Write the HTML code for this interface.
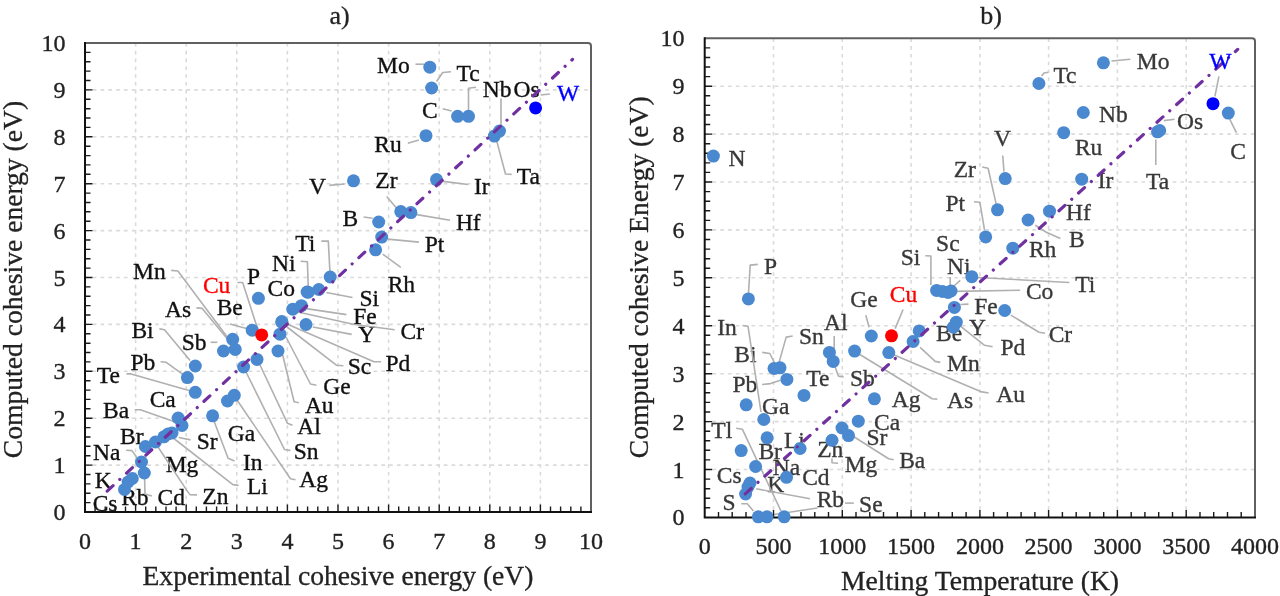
<!DOCTYPE html>
<html><head><meta charset="utf-8"><title>Cohesive energy charts</title><style>
html,body{margin:0;padding:0;background:#fff;width:1280px;height:596px;overflow:hidden;}
svg{display:block;filter:blur(0.5px);}
text{font-family:"Liberation Serif",serif;}
.tk{font-size:24px;fill:#222;stroke:#222;stroke-width:0.35px;}
.tt{font-size:27.6px;fill:#222;stroke:#222;stroke-width:0.3px;}
.lb{font-size:23.5px;fill:#111;stroke:#111;stroke-width:0.35px;}
.rb{font-size:23.5px;fill:#383838;stroke:#383838;stroke-width:0.35px;}
.gd{stroke:#dadada;stroke-width:1.6;stroke-dasharray:3.6 4.2;fill:none;}
.ld{stroke:#b0b0b0;stroke-width:1.6;fill:none;stroke-linejoin:round;}
.mt{stroke:#1a1a1a;stroke-width:1.4;}
.fit{stroke:#7030a0;stroke-width:3.2;fill:none;stroke-linecap:round;stroke-dasharray:8 9.2 0.01 9.2;}
</style></head><body>
<svg width="1280" height="596" viewBox="0 0 1280 596">
<line class="gd" x1="135.6" y1="43" x2="135.6" y2="512"/>
<line class="gd" x1="186.2" y1="43" x2="186.2" y2="512"/>
<line class="gd" x1="236.8" y1="43" x2="236.8" y2="512"/>
<line class="gd" x1="287.4" y1="43" x2="287.4" y2="512"/>
<line class="gd" x1="338" y1="43" x2="338" y2="512"/>
<line class="gd" x1="388.6" y1="43" x2="388.6" y2="512"/>
<line class="gd" x1="439.2" y1="43" x2="439.2" y2="512"/>
<line class="gd" x1="489.8" y1="43" x2="489.8" y2="512"/>
<line class="gd" x1="540.4" y1="43" x2="540.4" y2="512"/>
<line class="gd" x1="85" y1="465.1" x2="591" y2="465.1"/>
<line class="gd" x1="85" y1="418.2" x2="591" y2="418.2"/>
<line class="gd" x1="85" y1="371.3" x2="591" y2="371.3"/>
<line class="gd" x1="85" y1="324.4" x2="591" y2="324.4"/>
<line class="gd" x1="85" y1="277.5" x2="591" y2="277.5"/>
<line class="gd" x1="85" y1="230.6" x2="591" y2="230.6"/>
<line class="gd" x1="85" y1="183.7" x2="591" y2="183.7"/>
<line class="gd" x1="85" y1="136.8" x2="591" y2="136.8"/>
<line class="gd" x1="85" y1="89.9" x2="591" y2="89.9"/>
<line class="gd" x1="773.5" y1="38.3" x2="773.5" y2="517.4"/>
<line class="gd" x1="842.3" y1="38.3" x2="842.3" y2="517.4"/>
<line class="gd" x1="911.1" y1="38.3" x2="911.1" y2="517.4"/>
<line class="gd" x1="979.9" y1="38.3" x2="979.9" y2="517.4"/>
<line class="gd" x1="1048.6" y1="38.3" x2="1048.6" y2="517.4"/>
<line class="gd" x1="1117.4" y1="38.3" x2="1117.4" y2="517.4"/>
<line class="gd" x1="1186.2" y1="38.3" x2="1186.2" y2="517.4"/>
<line class="gd" x1="704.7" y1="469.5" x2="1255" y2="469.5"/>
<line class="gd" x1="704.7" y1="421.6" x2="1255" y2="421.6"/>
<line class="gd" x1="704.7" y1="373.7" x2="1255" y2="373.7"/>
<line class="gd" x1="704.7" y1="325.8" x2="1255" y2="325.8"/>
<line class="gd" x1="704.7" y1="277.8" x2="1255" y2="277.8"/>
<line class="gd" x1="704.7" y1="229.9" x2="1255" y2="229.9"/>
<line class="gd" x1="704.7" y1="182" x2="1255" y2="182"/>
<line class="gd" x1="704.7" y1="134.1" x2="1255" y2="134.1"/>
<line class="gd" x1="704.7" y1="86.2" x2="1255" y2="86.2"/>
<text class="lb" x="377.1" y="72.8">Mo</text>
<text class="lb" x="456.5" y="81.3">Tc</text>
<text class="lb" x="482.7" y="96.7">Nb</text>
<text class="lb" x="513.5" y="96.7">Os</text>
<text class="lb" x="422" y="118.1">C</text>
<text class="lb" x="374.3" y="152.3">Ru</text>
<text class="lb" x="308.9" y="193.8">V</text>
<text class="lb" x="375.3" y="187.7">Zr</text>
<text class="lb" x="474" y="193.8">Ir</text>
<text class="lb" x="455.9" y="230.1">Hf</text>
<text class="lb" x="516.7" y="184.3">Ta</text>
<text class="lb" x="342.5" y="226">B</text>
<text class="lb" x="424.7" y="251.5">Pt</text>
<text class="lb" x="387.7" y="292.3">Rh</text>
<text class="lb" x="295.3" y="250.6">Ti</text>
<text class="lb" x="272.1" y="271.4">Ni</text>
<text class="lb" x="267.5" y="295.6">Co</text>
<text class="lb" x="359.4" y="306.3">Si</text>
<text class="lb" x="353.3" y="324">Fe</text>
<text class="lb" x="400.5" y="339.3">Cr</text>
<text class="lb" x="358.2" y="342.3">Y</text>
<text class="lb" x="246.9" y="284.3">P</text>
<text class="lb" x="216.7" y="315.3">Be</text>
<text class="lb" x="133.1" y="278.8">Mn</text>
<text class="lb" x="165" y="316.6">As</text>
<text class="lb" x="131.4" y="337.5">Bi</text>
<text class="lb" x="181.8" y="349.5">Sb</text>
<text class="lb" x="347.8" y="373.8">Sc</text>
<text class="lb" x="385.4" y="371.4">Pd</text>
<text class="lb" x="323.3" y="394.3">Ge</text>
<text class="lb" x="304.9" y="412.8">Au</text>
<text class="lb" x="297.3" y="433.7">Al</text>
<text class="lb" x="293.7" y="459.3">Sn</text>
<text class="lb" x="299.3" y="487.1">Ag</text>
<text class="lb" x="130.4" y="370">Pb</text>
<text class="lb" x="96.7" y="382.9">Te</text>
<text class="lb" x="149.7" y="406.9">Ca</text>
<text class="lb" x="103.1" y="417.9">Ba</text>
<text class="lb" x="227.8" y="440.8">Ga</text>
<text class="lb" x="242.9" y="470.3">In</text>
<text class="lb" x="246.9" y="494.3">Li</text>
<text class="lb" x="196.7" y="448.9">Sr</text>
<text class="lb" x="120" y="443.8">Br</text>
<text class="lb" x="93.1" y="459.8">Na</text>
<text class="lb" x="165.7" y="472.3">Mg</text>
<text class="lb" x="94.7" y="488.3">K</text>
<text class="lb" x="157.5" y="504.8">Cd</text>
<text class="lb" x="202.3" y="504.1">Zn</text>
<text class="lb" x="121.2" y="505.3">Rb</text>
<text class="lb" x="92.7" y="511.3">Cs</text>
<text class="rb" x="728.4" y="165.6">N</text>
<text class="rb" x="1136.8" y="69">Mo</text>
<text class="rb" x="1053.4" y="82.5">Tc</text>
<text class="rb" x="1099.1" y="122.2">Nb</text>
<text class="rb" x="1074.9" y="155.3">Ru</text>
<text class="rb" x="1177" y="128.9">Os</text>
<text class="rb" x="1230.2" y="158.5">C</text>
<text class="rb" x="1146.1" y="189.4">Ta</text>
<text class="rb" x="1097.7" y="188">Ir</text>
<text class="rb" x="994.1" y="146.2">V</text>
<text class="rb" x="953.7" y="176.7">Zr</text>
<text class="rb" x="945.5" y="210.8">Pt</text>
<text class="rb" x="1066.1" y="219.5">Hf</text>
<text class="rb" x="1069.1" y="246.7">B</text>
<text class="rb" x="1028.9" y="257.3">Rh</text>
<text class="rb" x="936.1" y="250.5">Sc</text>
<text class="rb" x="900.8" y="264.5">Si</text>
<text class="rb" x="947.1" y="273.6">Ni</text>
<text class="rb" x="1075.2" y="292">Ti</text>
<text class="rb" x="1025.9" y="299">Co</text>
<text class="rb" x="974.3" y="313.6">Fe</text>
<text class="rb" x="969" y="335.3">Y</text>
<text class="rb" x="936.1" y="340.8">Be</text>
<text class="rb" x="1048.7" y="341.6">Cr</text>
<text class="rb" x="1000.4" y="355.2">Pd</text>
<text class="rb" x="947" y="370.8">Mn</text>
<text class="rb" x="996.2" y="402">Au</text>
<text class="rb" x="947" y="407.6">As</text>
<text class="rb" x="764.1" y="274.1">P</text>
<text class="rb" x="850.3" y="306.8">Ge</text>
<text class="rb" x="824.1" y="329.8">Al</text>
<text class="rb" x="717.2" y="335.2">In</text>
<text class="rb" x="799" y="343.9">Sn</text>
<text class="rb" x="734.3" y="361.8">Bi</text>
<text class="rb" x="732.4" y="392.3">Pb</text>
<text class="rb" x="806.2" y="386.4">Te</text>
<text class="rb" x="849.9" y="386.4">Sb</text>
<text class="rb" x="762" y="413.8">Ga</text>
<text class="rb" x="891.7" y="407.1">Ag</text>
<text class="rb" x="874.1" y="429.8">Ca</text>
<text class="rb" x="866.5" y="444.9">Sr</text>
<text class="rb" x="899.2" y="467.5">Ba</text>
<text class="rb" x="844.7" y="471.7">Mg</text>
<text class="rb" x="711.3" y="437.8">Tl</text>
<text class="rb" x="784" y="447.5">Li</text>
<text class="rb" x="758.4" y="458.8">Br</text>
<text class="rb" x="817.2" y="457.3">Zn</text>
<text class="rb" x="772.7" y="474.6">Na</text>
<text class="rb" x="802.2" y="485.2">Cd</text>
<text class="rb" x="767.3" y="492.3">K</text>
<text class="rb" x="816.7" y="507.2">Rb</text>
<text class="rb" x="716.8" y="482.8">Cs</text>
<text class="rb" x="722.5" y="510.1">S</text>
<text class="rb" x="859.1" y="512.2">Se</text>
<polyline class="ld" points="415.5,64.2 423.8,64.2"/>
<polyline class="ld" points="436.6,81.5 442.7,72.5 451,71.7"/>
<polyline class="ld" points="442.7,108.7 451.7,111"/>
<polyline class="ld" points="468.5,110 468.5,88.2 476,87.2"/>
<polyline class="ld" points="501,126 501,98.6"/>
<polyline class="ld" points="540.6,95 549.9,94"/>
<polyline class="ld" points="407.8,143.2 418.9,140.1"/>
<polyline class="ld" points="329.3,185.4 344.4,184"/>
<polyline class="ld" points="386.7,196.5 396.8,208.6"/>
<polyline class="ld" points="443.1,181.4 468.3,184.5"/>
<polyline class="ld" points="416.9,214.6 450.1,220.3"/>
<polyline class="ld" points="496.5,140.1 505.5,174 511.6,174.4"/>
<polyline class="ld" points="363.6,217 372.6,218.2"/>
<polyline class="ld" points="387.7,239.1 418.9,242.1"/>
<polyline class="ld" points="382.7,254.2 400.8,267.3"/>
<polyline class="ld" points="321.3,241.1 328.3,241.1 329.9,271.3"/>
<polyline class="ld" points="300.6,261.3 307.4,261.8 308.2,286.3"/>
<polyline class="ld" points="326.3,292.5 352.5,297.5"/>
<polyline class="ld" points="306.2,308.6 346.4,314.6"/>
<polyline class="ld" points="298,312 353.1,324.3 394.7,329.7"/>
<polyline class="ld" points="312.8,327 351.7,334.4"/>
<polyline class="ld" points="237.4,282.5 242.7,282.5 257,327"/>
<polyline class="ld" points="229.8,324 246.5,328.5"/>
<polyline class="ld" points="171.2,270.4 177.9,271 227.4,337.2"/>
<polyline class="ld" points="196.4,307.9 202.2,308.4 230.8,343"/>
<polyline class="ld" points="159.4,328.9 164.5,329.7 190.1,360.4"/>
<polyline class="ld" points="210.6,342.3 217.3,342.3"/>
<polyline class="ld" points="160.6,361.7 166.2,362.3 182.8,374.3"/>
<polyline class="ld" points="126.5,373.9 131.1,373.9 189,390.5"/>
<polyline class="ld" points="134.8,409.7 140.3,409.7 176,422.2"/>
<polyline class="ld" points="287,327 336.4,365.2 343.4,365.7"/>
<polyline class="ld" points="287,324 374,361.7 381,361.7"/>
<polyline class="ld" points="286,337 310.5,384 316.4,385.2"/>
<polyline class="ld" points="282.3,353.5 294.1,401.7 298.8,402.8"/>
<polyline class="ld" points="260,365 287.5,423.3 292.5,425.3"/>
<polyline class="ld" points="246,372 284.5,449.5 290.5,450.5"/>
<polyline class="ld" points="237,400 290.5,478.7 295.5,479.7"/>
<polyline class="ld" points="214,421 228.1,458.3 234.5,461.1"/>
<polyline class="ld" points="172,437 232.9,484.6 238.5,485.4"/>
<polyline class="ld" points="158,447 186.7,490.1 189.9,494.6 197,494.9"/>
<polyline class="ld" points="178.7,437.5 190.6,439.9"/>
<polyline class="ld" points="126.1,450.3 132,450.6 137,457.8"/>
<polyline class="ld" points="144.6,478.8 145,494 152,496"/>
<polyline class="ld" points="1111.5,61 1130.3,59.3"/>
<polyline class="ld" points="1041.6,76 1044,73 1048.3,72.2"/>
<polyline class="ld" points="1163.8,120.6 1174.6,119.2"/>
<polyline class="ld" points="1214.9,96.4 1218.9,76.3"/>
<polyline class="ld" points="1229.7,119.2 1236.4,132.7"/>
<polyline class="ld" points="1155.8,139.4 1155.8,164.9"/>
<polyline class="ld" points="1002.7,155.5 1004,171.6"/>
<polyline class="ld" points="982.2,167 988.1,168.2 996.3,204.6"/>
<polyline class="ld" points="974,201.8 979.9,202.3 984.6,230.5"/>
<polyline class="ld" points="1035.2,225.3 1046.3,232.3 1060.4,238.4"/>
<polyline class="ld" points="978,277.5 1069.4,282.5"/>
<polyline class="ld" points="954.5,291.4 1020.1,290.3"/>
<polyline class="ld" points="925.3,255.8 930.9,256 930.9,285"/>
<polyline class="ld" points="950.2,277 950.2,285.3"/>
<polyline class="ld" points="960.3,280.3 952.7,287"/>
<polyline class="ld" points="903.1,309.5 895.1,328.6"/>
<polyline class="ld" points="960.5,304.5 968.5,304.1"/>
<polyline class="ld" points="1010.8,315.1 1039,332.2 1045,333.2"/>
<polyline class="ld" points="960.4,326.2 984.6,345.3 992.6,346.7"/>
<polyline class="ld" points="920.1,347.3 935.2,361.4 940.3,362.4"/>
<polyline class="ld" points="893,354.5 980.6,391.6 988.6,393"/>
<polyline class="ld" points="859,354 932.2,398.7 937.3,399.1"/>
<polyline class="ld" points="748.4,294.5 750.2,265.1 757.8,264.4"/>
<polyline class="ld" points="865.8,315.3 869.1,327.3"/>
<polyline class="ld" points="834.2,336 834.2,349.1"/>
<polyline class="ld" points="742.5,325.5 748,326.2 761,412"/>
<polyline class="ld" points="762.2,352.4 769.8,353.5 775.3,364.4"/>
<polyline class="ld" points="792.7,336 786.2,337.1 778.5,364.4"/>
<polyline class="ld" points="762.1,384.5 770.5,383.6 780.5,380.3"/>
<polyline class="ld" points="832.6,360.1 838.4,376.1 843.5,376.9"/>
<polyline class="ld" points="848,433 888.6,458.8 893.7,459.7"/>
<polyline class="ld" points="736.2,428.2 742.3,429.2 781,511"/>
<polyline class="ld" points="756.2,488.8 810,498.8"/>
<polyline class="ld" points="771,515 817.5,508"/>
<polyline class="ld" points="845,503.1 853.8,503.1"/>
<polyline class="ld" points="741.3,503.7 747.3,503.7 753.4,511"/>
<polyline class="ld" points="832,458.5 832,462.8 838,463.2"/>
<path d="M85 43 L588 43 Q591 43 591 46 L591 512" stroke="#606060" stroke-width="2" fill="none"/>
<path class="mt" d="M95.1 512V506.5M105.2 512V506.5M115.4 512V506.5M125.5 512V506.5M145.7 512V506.5M155.8 512V506.5M166 512V506.5M176.1 512V506.5M196.3 512V506.5M206.4 512V506.5M216.6 512V506.5M226.7 512V506.5M246.9 512V506.5M257 512V506.5M267.2 512V506.5M277.3 512V506.5M297.5 512V506.5M307.6 512V506.5M317.8 512V506.5M327.9 512V506.5M348.1 512V506.5M358.2 512V506.5M368.4 512V506.5M378.5 512V506.5M398.7 512V506.5M408.8 512V506.5M419 512V506.5M429.1 512V506.5M449.3 512V506.5M459.4 512V506.5M469.6 512V506.5M479.7 512V506.5M499.9 512V506.5M510 512V506.5M520.2 512V506.5M530.3 512V506.5M550.5 512V506.5M560.6 512V506.5M570.8 512V506.5M580.9 512V506.5M135.6 512V504.5M186.2 512V504.5M236.8 512V504.5M287.4 512V504.5M338 512V504.5M388.6 512V504.5M439.2 512V504.5M489.8 512V504.5M540.4 512V504.5M85 502.6H90.5M85 493.2H90.5M85 483.9H90.5M85 474.5H90.5M85 455.7H90.5M85 446.3H90.5M85 437H90.5M85 427.6H90.5M85 408.8H90.5M85 399.4H90.5M85 390.1H90.5M85 380.7H90.5M85 361.9H90.5M85 352.5H90.5M85 343.2H90.5M85 333.8H90.5M85 315H90.5M85 305.6H90.5M85 296.3H90.5M85 286.9H90.5M85 268.1H90.5M85 258.7H90.5M85 249.4H90.5M85 240H90.5M85 221.2H90.5M85 211.8H90.5M85 202.5H90.5M85 193.1H90.5M85 174.3H90.5M85 164.9H90.5M85 155.6H90.5M85 146.2H90.5M85 127.4H90.5M85 118H90.5M85 108.7H90.5M85 99.3H90.5M85 80.5H90.5M85 71.1H90.5M85 61.8H90.5M85 52.4H90.5M85 465.1H92.5M85 418.2H92.5M85 371.3H92.5M85 324.4H92.5M85 277.5H92.5M85 230.6H92.5M85 183.7H92.5M85 136.8H92.5M85 89.9H92.5"/>
<path d="M85 42 V512 H592" stroke="#111" stroke-width="2" fill="none"/>
<path d="M704.7 38.3 L1252 38.3 Q1255 38.3 1255 41.3 L1255 517.4" stroke="#606060" stroke-width="2" fill="none"/>
<path class="mt" d="M718.5 517.4V511.9M732.2 517.4V511.9M746 517.4V511.9M759.7 517.4V511.9M787.2 517.4V511.9M801 517.4V511.9M814.8 517.4V511.9M828.5 517.4V511.9M856 517.4V511.9M869.8 517.4V511.9M883.5 517.4V511.9M897.3 517.4V511.9M924.8 517.4V511.9M938.6 517.4V511.9M952.3 517.4V511.9M966.1 517.4V511.9M993.6 517.4V511.9M1007.4 517.4V511.9M1021.1 517.4V511.9M1034.9 517.4V511.9M1062.4 517.4V511.9M1076.2 517.4V511.9M1089.9 517.4V511.9M1103.7 517.4V511.9M1131.2 517.4V511.9M1144.9 517.4V511.9M1158.7 517.4V511.9M1172.5 517.4V511.9M1200 517.4V511.9M1213.7 517.4V511.9M1227.5 517.4V511.9M1241.2 517.4V511.9M773.5 517.4V509.9M842.3 517.4V509.9M911.1 517.4V509.9M979.9 517.4V509.9M1048.6 517.4V509.9M1117.4 517.4V509.9M1186.2 517.4V509.9M704.7 507.8H710.2M704.7 498.2H710.2M704.7 488.7H710.2M704.7 479.1H710.2M704.7 459.9H710.2M704.7 450.3H710.2M704.7 440.7H710.2M704.7 431.2H710.2M704.7 412H710.2M704.7 402.4H710.2M704.7 392.8H710.2M704.7 383.3H710.2M704.7 364.1H710.2M704.7 354.5H710.2M704.7 344.9H710.2M704.7 335.3H710.2M704.7 316.2H710.2M704.7 306.6H710.2M704.7 297H710.2M704.7 287.4H710.2M704.7 268.3H710.2M704.7 258.7H710.2M704.7 249.1H710.2M704.7 239.5H710.2M704.7 220.4H710.2M704.7 210.8H710.2M704.7 201.2H710.2M704.7 191.6H710.2M704.7 172.4H710.2M704.7 162.9H710.2M704.7 153.3H710.2M704.7 143.7H710.2M704.7 124.5H710.2M704.7 115H710.2M704.7 105.4H710.2M704.7 95.8H710.2M704.7 76.6H710.2M704.7 67H710.2M704.7 57.5H710.2M704.7 47.9H710.2M704.7 469.5H712.2M704.7 421.6H712.2M704.7 373.7H712.2M704.7 325.8H712.2M704.7 277.8H712.2M704.7 229.9H712.2M704.7 182H712.2M704.7 134.1H712.2M704.7 86.2H712.2"/>
<path d="M704.7 37.3 V517.4 H1256" stroke="#111" stroke-width="2" fill="none"/>
<circle cx="429.8" cy="67.2" r="6.5" fill="#4a89cf"/>
<circle cx="431.6" cy="88" r="6.5" fill="#4a89cf"/>
<circle cx="457.6" cy="116.3" r="6.5" fill="#4a89cf"/>
<circle cx="468.5" cy="116.3" r="6.5" fill="#4a89cf"/>
<circle cx="426" cy="135.7" r="6.5" fill="#4a89cf"/>
<circle cx="494.4" cy="136.1" r="6.5" fill="#4a89cf"/>
<circle cx="499.5" cy="131.1" r="6.5" fill="#4a89cf"/>
<circle cx="353.5" cy="180.8" r="6.5" fill="#4a89cf"/>
<circle cx="436.5" cy="179.6" r="6.5" fill="#4a89cf"/>
<circle cx="400.8" cy="211.6" r="6.5" fill="#4a89cf"/>
<circle cx="410.9" cy="212.6" r="6.5" fill="#4a89cf"/>
<circle cx="378.7" cy="222" r="6.5" fill="#4a89cf"/>
<circle cx="381.7" cy="237.1" r="6.5" fill="#4a89cf"/>
<circle cx="375.6" cy="249.8" r="6.5" fill="#4a89cf"/>
<circle cx="330.2" cy="277" r="6.5" fill="#4a89cf"/>
<circle cx="318.8" cy="289.5" r="6.5" fill="#4a89cf"/>
<circle cx="307.1" cy="292" r="6.5" fill="#4a89cf"/>
<circle cx="308.2" cy="292.2" r="6.5" fill="#4a89cf"/>
<circle cx="301.4" cy="305.7" r="6.5" fill="#4a89cf"/>
<circle cx="292.8" cy="309.2" r="6.5" fill="#4a89cf"/>
<circle cx="306" cy="324.5" r="6.5" fill="#4a89cf"/>
<circle cx="282" cy="322.5" r="6.5" fill="#4a89cf"/>
<circle cx="281.8" cy="321.5" r="6.5" fill="#4a89cf"/>
<circle cx="258.4" cy="298.3" r="6.5" fill="#4a89cf"/>
<circle cx="252.2" cy="330.2" r="6.5" fill="#4a89cf"/>
<circle cx="280" cy="334.2" r="6.5" fill="#4a89cf"/>
<circle cx="232.7" cy="339.3" r="6.5" fill="#4a89cf"/>
<circle cx="235.2" cy="349.4" r="6.5" fill="#4a89cf"/>
<circle cx="223.5" cy="351" r="6.5" fill="#4a89cf"/>
<circle cx="278" cy="351" r="6.5" fill="#4a89cf"/>
<circle cx="257" cy="359.4" r="6.5" fill="#4a89cf"/>
<circle cx="243.6" cy="367" r="6.5" fill="#4a89cf"/>
<circle cx="195.3" cy="366" r="6.5" fill="#4a89cf"/>
<circle cx="187.4" cy="377.6" r="6.5" fill="#4a89cf"/>
<circle cx="195.3" cy="392.3" r="6.5" fill="#4a89cf"/>
<circle cx="234.3" cy="395.3" r="6.5" fill="#4a89cf"/>
<circle cx="227.5" cy="401" r="6.5" fill="#4a89cf"/>
<circle cx="212.6" cy="415.8" r="6.5" fill="#4a89cf"/>
<circle cx="178.2" cy="418" r="6.5" fill="#4a89cf"/>
<circle cx="182" cy="425.5" r="6.5" fill="#4a89cf"/>
<circle cx="172" cy="433" r="6.5" fill="#4a89cf"/>
<circle cx="168" cy="434" r="6.5" fill="#4a89cf"/>
<circle cx="163.9" cy="436.8" r="6.5" fill="#4a89cf"/>
<circle cx="155.5" cy="442" r="6.5" fill="#4a89cf"/>
<circle cx="145.4" cy="446.5" r="6.5" fill="#4a89cf"/>
<circle cx="141.5" cy="462" r="6.5" fill="#4a89cf"/>
<circle cx="144.3" cy="473" r="6.5" fill="#4a89cf"/>
<circle cx="132.3" cy="478.5" r="6.5" fill="#4a89cf"/>
<circle cx="128.1" cy="482" r="6.5" fill="#4a89cf"/>
<circle cx="124.5" cy="489.5" r="6.5" fill="#4a89cf"/>
<circle cx="261.7" cy="334.9" r="6.5" fill="#ff0000"/>
<circle cx="535.6" cy="107.9" r="6.5" fill="#0000ff"/>
<circle cx="713.4" cy="156.1" r="6.5" fill="#4a89cf"/>
<circle cx="1103.4" cy="62.8" r="6.5" fill="#4a89cf"/>
<circle cx="1038.9" cy="83.5" r="6.5" fill="#4a89cf"/>
<circle cx="1083.3" cy="112.5" r="6.5" fill="#4a89cf"/>
<circle cx="1063.7" cy="132.7" r="6.5" fill="#4a89cf"/>
<circle cx="1157.5" cy="131.8" r="6.5" fill="#4a89cf"/>
<circle cx="1159.7" cy="130.5" r="6.5" fill="#4a89cf"/>
<circle cx="1228.3" cy="113.1" r="6.5" fill="#4a89cf"/>
<circle cx="1005.2" cy="178.6" r="6.5" fill="#4a89cf"/>
<circle cx="1081.7" cy="179.2" r="6.5" fill="#4a89cf"/>
<circle cx="997.5" cy="209.8" r="6.5" fill="#4a89cf"/>
<circle cx="1049.5" cy="211.2" r="6.5" fill="#4a89cf"/>
<circle cx="1028.1" cy="220" r="6.5" fill="#4a89cf"/>
<circle cx="985.7" cy="236.9" r="6.5" fill="#4a89cf"/>
<circle cx="1012.8" cy="248.2" r="6.5" fill="#4a89cf"/>
<circle cx="971.8" cy="276.7" r="6.5" fill="#4a89cf"/>
<circle cx="936.6" cy="290.4" r="6.5" fill="#4a89cf"/>
<circle cx="942.5" cy="291.5" r="6.5" fill="#4a89cf"/>
<circle cx="948" cy="292.5" r="6.5" fill="#4a89cf"/>
<circle cx="951" cy="291" r="6.5" fill="#4a89cf"/>
<circle cx="954.4" cy="307.4" r="6.5" fill="#4a89cf"/>
<circle cx="1004.7" cy="310.5" r="6.5" fill="#4a89cf"/>
<circle cx="956.3" cy="322.2" r="6.5" fill="#4a89cf"/>
<circle cx="953.4" cy="327.2" r="6.5" fill="#4a89cf"/>
<circle cx="748.4" cy="298.9" r="6.5" fill="#4a89cf"/>
<circle cx="919.2" cy="330.9" r="6.5" fill="#4a89cf"/>
<circle cx="913.1" cy="341.5" r="6.5" fill="#4a89cf"/>
<circle cx="871.3" cy="336" r="6.5" fill="#4a89cf"/>
<circle cx="829.4" cy="352.4" r="6.5" fill="#4a89cf"/>
<circle cx="833.2" cy="361.4" r="6.5" fill="#4a89cf"/>
<circle cx="854.6" cy="351.1" r="6.5" fill="#4a89cf"/>
<circle cx="888.8" cy="352.6" r="6.5" fill="#4a89cf"/>
<circle cx="780" cy="367.8" r="6.5" fill="#4a89cf"/>
<circle cx="774" cy="368.5" r="6.5" fill="#4a89cf"/>
<circle cx="786.9" cy="379.4" r="6.5" fill="#4a89cf"/>
<circle cx="804" cy="395.4" r="6.5" fill="#4a89cf"/>
<circle cx="746.2" cy="404.8" r="6.5" fill="#4a89cf"/>
<circle cx="763.8" cy="419.5" r="6.5" fill="#4a89cf"/>
<circle cx="874.4" cy="398.8" r="6.5" fill="#4a89cf"/>
<circle cx="858.3" cy="421.2" r="6.5" fill="#4a89cf"/>
<circle cx="842" cy="428" r="6.5" fill="#4a89cf"/>
<circle cx="848.5" cy="435.6" r="6.5" fill="#4a89cf"/>
<circle cx="832" cy="440.3" r="6.5" fill="#4a89cf"/>
<circle cx="767.1" cy="437.8" r="6.5" fill="#4a89cf"/>
<circle cx="800.1" cy="448.5" r="6.5" fill="#4a89cf"/>
<circle cx="741.2" cy="450.6" r="6.5" fill="#4a89cf"/>
<circle cx="755.6" cy="466.5" r="6.5" fill="#4a89cf"/>
<circle cx="786.5" cy="477.3" r="6.5" fill="#4a89cf"/>
<circle cx="750" cy="483" r="6.5" fill="#4a89cf"/>
<circle cx="748" cy="487" r="6.5" fill="#4a89cf"/>
<circle cx="745.6" cy="494" r="6.5" fill="#4a89cf"/>
<circle cx="758.3" cy="516.8" r="6.5" fill="#4a89cf"/>
<circle cx="767" cy="516.8" r="6.5" fill="#4a89cf"/>
<circle cx="784.2" cy="516.8" r="6.5" fill="#4a89cf"/>
<circle cx="891.5" cy="335.8" r="6.5" fill="#ff0000"/>
<circle cx="1213" cy="103.7" r="6.5" fill="#0000ff"/>
<line class="fit" x1="107.2" y1="491.1" x2="572.5" y2="59.4"/>
<line class="fit" x1="744.3" y1="494.7" x2="1237.7" y2="49.4" style="stroke-dashoffset:-1.3"/>
<text class="lb" x="202.9" y="292.6" style="fill:#ff0000;stroke:#ff0000">Cu</text>
<text class="lb" x="557.1" y="101.3" style="fill:#0000ff;stroke:#0000ff">W</text>
<text class="rb" x="889.8" y="301.7" style="fill:#ff0000;stroke:#ff0000">Cu</text>
<text class="rb" x="1209.2" y="68.5" style="fill:#0000ff;stroke:#0000ff">W</text>
<text class="tk" x="65.5" y="520" text-anchor="end">0</text>
<text class="tk" x="65.5" y="473.1" text-anchor="end">1</text>
<text class="tk" x="65.5" y="426.2" text-anchor="end">2</text>
<text class="tk" x="65.5" y="379.3" text-anchor="end">3</text>
<text class="tk" x="65.5" y="332.4" text-anchor="end">4</text>
<text class="tk" x="65.5" y="285.5" text-anchor="end">5</text>
<text class="tk" x="65.5" y="238.6" text-anchor="end">6</text>
<text class="tk" x="65.5" y="191.7" text-anchor="end">7</text>
<text class="tk" x="65.5" y="144.8" text-anchor="end">8</text>
<text class="tk" x="65.5" y="97.9" text-anchor="end">9</text>
<text class="tk" x="65.5" y="51" text-anchor="end">10</text>
<text class="tk" x="85" y="549" text-anchor="middle">0</text>
<text class="tk" x="135.6" y="549" text-anchor="middle">1</text>
<text class="tk" x="186.2" y="549" text-anchor="middle">2</text>
<text class="tk" x="236.8" y="549" text-anchor="middle">3</text>
<text class="tk" x="287.4" y="549" text-anchor="middle">4</text>
<text class="tk" x="338" y="549" text-anchor="middle">5</text>
<text class="tk" x="388.6" y="549" text-anchor="middle">6</text>
<text class="tk" x="439.2" y="549" text-anchor="middle">7</text>
<text class="tk" x="489.8" y="549" text-anchor="middle">8</text>
<text class="tk" x="540.4" y="549" text-anchor="middle">9</text>
<text class="tk" x="591" y="549" text-anchor="middle">10</text>
<text class="tk" x="684.5" y="525.4" text-anchor="end">0</text>
<text class="tk" x="684.5" y="477.5" text-anchor="end">1</text>
<text class="tk" x="684.5" y="429.6" text-anchor="end">2</text>
<text class="tk" x="684.5" y="381.7" text-anchor="end">3</text>
<text class="tk" x="684.5" y="333.8" text-anchor="end">4</text>
<text class="tk" x="684.5" y="285.8" text-anchor="end">5</text>
<text class="tk" x="684.5" y="237.9" text-anchor="end">6</text>
<text class="tk" x="684.5" y="190" text-anchor="end">7</text>
<text class="tk" x="684.5" y="142.1" text-anchor="end">8</text>
<text class="tk" x="684.5" y="94.2" text-anchor="end">9</text>
<text class="tk" x="684.5" y="46.3" text-anchor="end">10</text>
<text class="tk" x="704.7" y="554" text-anchor="middle">0</text>
<text class="tk" x="773.5" y="554" text-anchor="middle">500</text>
<text class="tk" x="842.3" y="554" text-anchor="middle">1000</text>
<text class="tk" x="911.1" y="554" text-anchor="middle">1500</text>
<text class="tk" x="979.9" y="554" text-anchor="middle">2000</text>
<text class="tk" x="1048.6" y="554" text-anchor="middle">2500</text>
<text class="tk" x="1117.4" y="554" text-anchor="middle">3000</text>
<text class="tk" x="1186.2" y="554" text-anchor="middle">3500</text>
<text class="tk" x="1255" y="554" text-anchor="middle">4000</text>
<text class="tt" x="338" y="584.5" text-anchor="middle">Experimental cohesive energy (eV)</text>
<text class="tt" x="980" y="590" text-anchor="middle">Melting Temperature (K)</text>
<text class="tt" transform="translate(22.2 279.5) rotate(-90)" text-anchor="middle">Computed cohesive energy (eV)</text>
<text class="tt" transform="translate(648 277.3) rotate(-90)" text-anchor="middle">Computed cohesive Energy (eV)</text>
<text class="tt" x="339.5" y="23.5" text-anchor="middle" style="font-size:26px">a)</text>
<text class="tt" x="991" y="23.7" text-anchor="middle" style="font-size:26px">b)</text>
</svg>
</body></html>
